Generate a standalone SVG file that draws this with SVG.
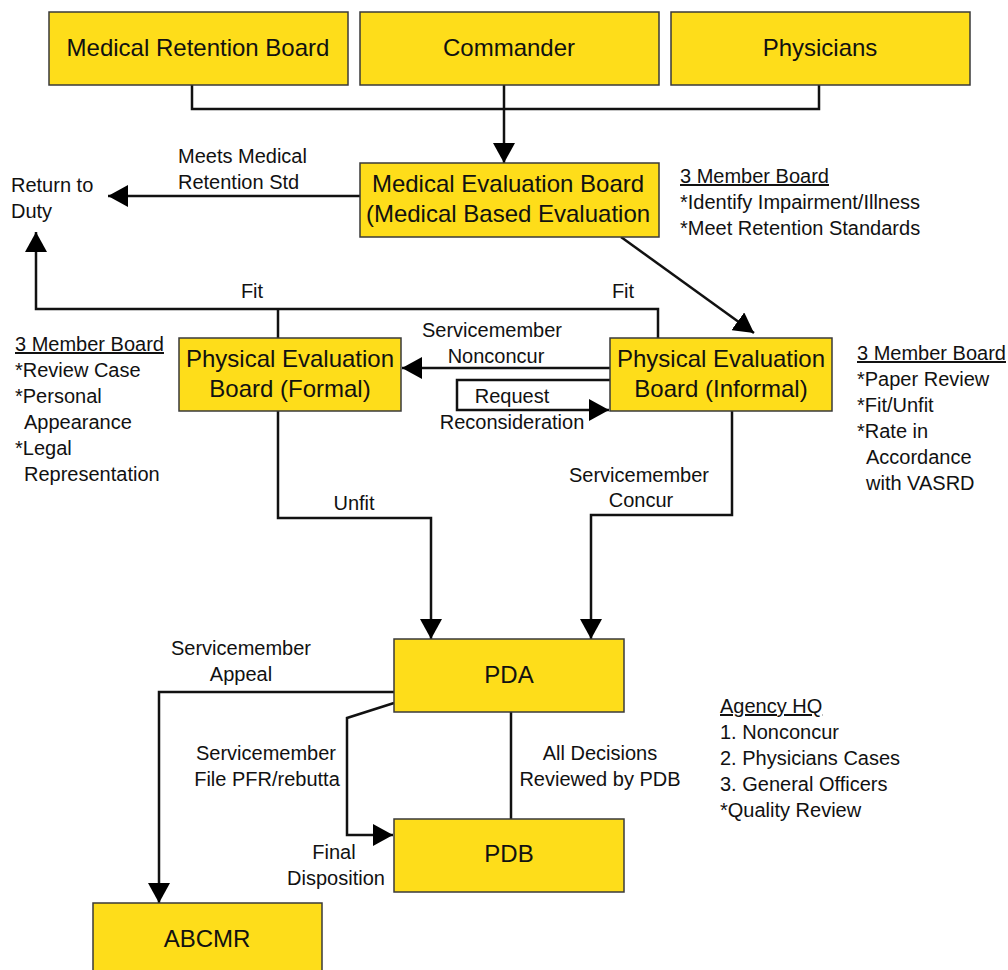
<svg xmlns="http://www.w3.org/2000/svg" width="1008" height="970" viewBox="0 0 1008 970">
<style>
.box{fill:#FEDD1A;stroke:#3a3a3a;stroke-width:1.5}
.bt{font-family:"Liberation Sans",Arial,sans-serif;font-size:24px;fill:#111;text-anchor:middle}
.lb{font-family:"Liberation Sans",Arial,sans-serif;font-size:20px;fill:#111}
.c{text-anchor:middle}
.u{text-decoration:underline}
.ln{fill:none;stroke:#111;stroke-width:2.5}
</style>
<defs>
<marker id="ah" markerUnits="userSpaceOnUse" markerWidth="21" markerHeight="22" refX="20" refY="11" orient="auto" viewBox="0 0 21 22">
<path d="M0,0 L20,11 L0,22 z" fill="#000"/>
</marker>
</defs>
<rect width="1008" height="970" fill="#fff"/>
<g id="connectors">
<polyline class="ln" points="192,85 192,109 819,109 819,85"/>
<line class="ln" x1="504" y1="85" x2="504" y2="163" marker-end="url(#ah)"/>
<line class="ln" x1="360" y1="196" x2="108" y2="196" marker-end="url(#ah)"/>
<line class="ln" x1="621" y1="237" x2="754" y2="333" marker-end="url(#ah)"/>
<polyline class="ln" points="658,338 658,309 36,309 36,232" marker-end="url(#ah)"/>
<line class="ln" x1="278" y1="309" x2="278" y2="338"/>
<line class="ln" x1="610" y1="368" x2="402" y2="368" marker-end="url(#ah)"/>
<polyline class="ln" points="610,380 457,380 457,410 609,410" marker-end="url(#ah)"/>
<polyline class="ln" points="278,411 278,518 431,518 431,639" marker-end="url(#ah)"/>
<polyline class="ln" points="732,411 732,515 591,515 591,639" marker-end="url(#ah)"/>
<polyline class="ln" points="394,692 159,692 159,903" marker-end="url(#ah)"/>
<polyline class="ln" points="394,703 347,718 347,835 393,835" marker-end="url(#ah)"/>
<line class="ln" x1="511" y1="712" x2="511" y2="819"/>
</g>
<g id="n-mrb"><rect class="box" x="49" y="12" width="299" height="73"/><text class="bt" x="198" y="56">Medical Retention Board</text></g>
<g id="n-commander"><rect class="box" x="360" y="12" width="299" height="73"/><text class="bt" x="509" y="56">Commander</text></g>
<g id="n-physicians"><rect class="box" x="671" y="12" width="299" height="73"/><text class="bt" x="820" y="56">Physicians</text></g>
<g id="n-meb"><rect class="box" x="360" y="163" width="299" height="74"/><text class="bt" x="508" y="192">Medical Evaluation Board</text><text class="bt" x="508" y="222">(Medical Based Evaluation</text></g>
<g id="n-rtd"><text class="lb" x="11" y="192">Return to</text><text class="lb" x="11" y="218">Duty</text></g>
<g id="n-pebf"><rect class="box" x="179" y="338" width="222" height="73"/><text class="bt" x="290" y="367">Physical Evaluation</text><text class="bt" x="290" y="397">Board (Formal)</text></g>
<g id="n-pebi"><rect class="box" x="610" y="338" width="222" height="73"/><text class="bt" x="721" y="367">Physical Evaluation</text><text class="bt" x="721" y="397">Board (Informal)</text></g>
<g id="n-pda"><rect class="box" x="394" y="639" width="230" height="73"/><text class="bt" x="509" y="683">PDA</text></g>
<g id="n-pdb"><rect class="box" x="394" y="819" width="230" height="73"/><text class="bt" x="509" y="862">PDB</text></g>
<g id="n-abcmr"><rect class="box" x="93" y="903" width="229" height="80"/><text class="bt" x="207" y="947">ABCMR</text></g>
<g id="labels">
<text class="lb" x="178" y="163">Meets Medical</text>
<text class="lb" x="178" y="189">Retention Std</text>
<text class="lb u" x="680" y="183">3 Member Board</text>
<text class="lb" x="680" y="209">*Identify Impairment/Illness</text>
<text class="lb" x="680" y="235">*Meet Retention Standards</text>
<text class="lb c" x="252" y="298">Fit</text>
<text class="lb c" x="623" y="298">Fit</text>
<text class="lb u" x="15" y="351">3 Member Board</text>
<text class="lb" x="15" y="377">*Review Case</text>
<text class="lb" x="15" y="403">*Personal</text>
<text class="lb" x="24" y="429">Appearance</text>
<text class="lb" x="15" y="455">*Legal</text>
<text class="lb" x="24" y="481">Representation</text>
<text class="lb c" x="492" y="337">Servicemember</text>
<text class="lb c" x="496" y="363">Nonconcur</text>
<text class="lb c" x="512" y="403">Request</text>
<text class="lb c" x="512" y="429">Reconsideration</text>
<text class="lb u" x="857" y="360">3 Member Board</text>
<text class="lb" x="857" y="386">*Paper Review</text>
<text class="lb" x="857" y="412">*Fit/Unfit</text>
<text class="lb" x="857" y="438">*Rate in</text>
<text class="lb" x="866" y="464">Accordance</text>
<text class="lb" x="866" y="490">with VASRD</text>
<text class="lb c" x="354" y="510">Unfit</text>
<text class="lb c" x="639" y="482">Servicemember</text>
<text class="lb c" x="641" y="507">Concur</text>
<text class="lb c" x="241" y="655">Servicemember</text>
<text class="lb c" x="241" y="681">Appeal</text>
<text class="lb c" x="266" y="760">Servicemember</text>
<text class="lb c" x="267" y="786">File PFR/rebutta</text>
<text class="lb c" x="334" y="859">Final</text>
<text class="lb c" x="336" y="885">Disposition</text>
<text class="lb c" x="600" y="760">All Decisions</text>
<text class="lb c" x="600" y="786">Reviewed by PDB</text>
<text class="lb u" x="720" y="713">Agency HQ</text>
<text class="lb" x="720" y="739">1. Nonconcur</text>
<text class="lb" x="720" y="765">2. Physicians Cases</text>
<text class="lb" x="720" y="791">3. General Officers</text>
<text class="lb" x="720" y="817">*Quality Review</text>
</g>
</svg>
